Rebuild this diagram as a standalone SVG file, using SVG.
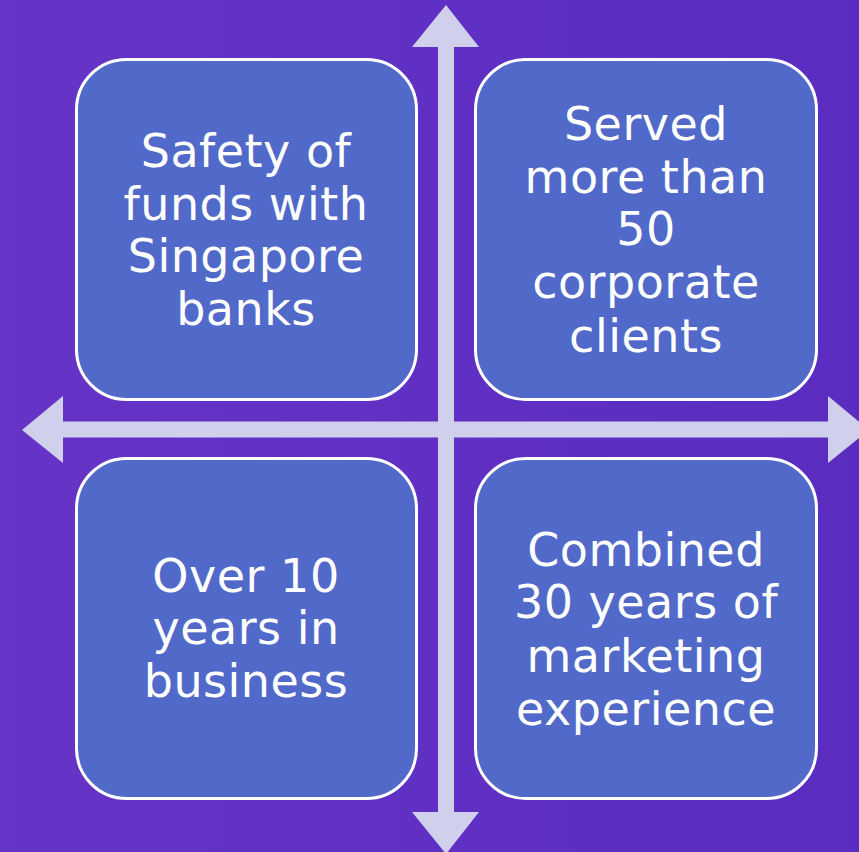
<svg xmlns="http://www.w3.org/2000/svg" width="859" height="852" viewBox="0 0 859 852">
<defs>
<linearGradient id="bg" x1="0" y1="0" x2="1" y2="0">
<stop offset="0" stop-color="#6634C7"/>
<stop offset="1" stop-color="#5A2CC0"/>
</linearGradient>
</defs>
<style>
.box{fill:#5169C9;stroke:#FFFFFF;stroke-width:3}
.arrow{fill:#D0D0EC}
.t{font-family:"DejaVu Sans","Liberation Sans",sans-serif;font-size:46px;letter-spacing:0.5px;fill:#FFFFFF;text-anchor:middle}
</style>
<rect x="0" y="0" width="859" height="852" fill="url(#bg)"/>
<g id="connectors">
<polygon class="arrow" points="446,5 479,47 454,47 454,812 479,812 446,854 412,812 438,812 438,47 412,47"/>
<polygon class="arrow" points="22,430 63,396 63,421.5 828,421.5 828,396 869,430 828,463 828,437.5 63,437.5 63,463"/>
</g>
<g id="node-tl">
<rect class="box" x="76.5" y="59.5" width="340" height="340" rx="50" ry="50"/>
<text class="t" x="246" y="167">Safety of</text>
<text class="t" x="246" y="220">funds with</text>
<text class="t" x="246" y="272">Singapore</text>
<text class="t" x="246" y="325">banks</text>
</g>
<g id="node-tr">
<rect class="box" x="475.5" y="59.5" width="341" height="340" rx="50" ry="50"/>
<text class="t" x="646" y="140">Served</text>
<text class="t" x="646" y="193">more than</text>
<text class="t" x="646" y="245">50</text>
<text class="t" x="646" y="298">corporate</text>
<text class="t" x="646" y="352">clients</text>
</g>
<g id="node-bl">
<rect class="box" x="76.5" y="458.5" width="340" height="340" rx="50" ry="50"/>
<text class="t" x="246" y="592">Over 10</text>
<text class="t" x="246" y="644">years in</text>
<text class="t" x="246" y="697">business</text>
</g>
<g id="node-br">
<rect class="box" x="475.5" y="458.5" width="341" height="340" rx="50" ry="50"/>
<text class="t" x="646" y="566">Combined</text>
<text class="t" x="646" y="618">30 years of</text>
<text class="t" x="646" y="672">marketing</text>
<text class="t" x="646" y="725">experience</text>
</g>
</svg>
